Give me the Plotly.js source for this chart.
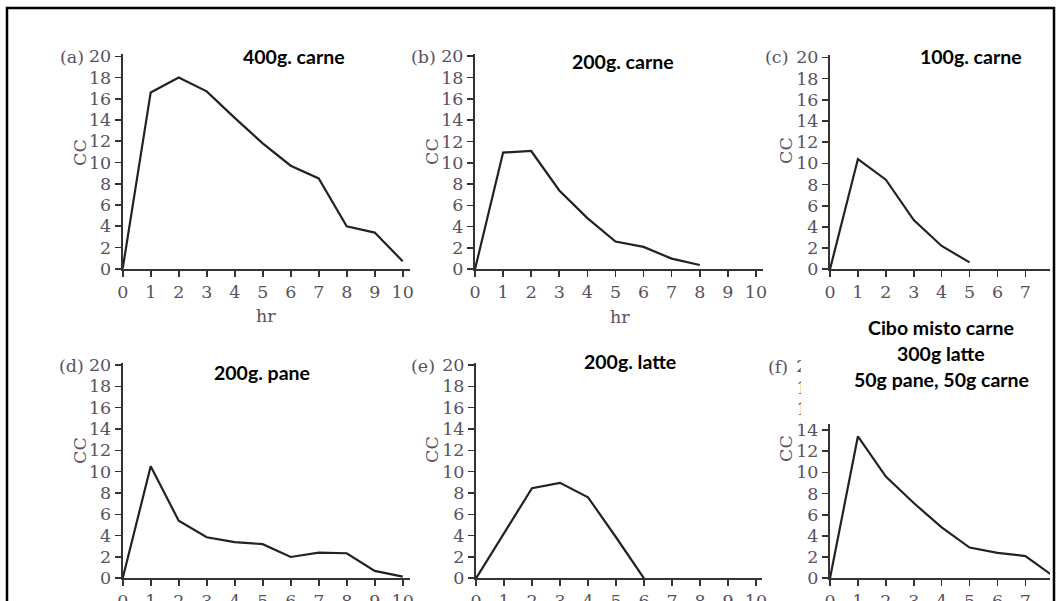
<!DOCTYPE html>
<html>
<head>
<meta charset="utf-8">
<script src="https://cdn.plot.ly/plotly-3.0.1.min.js"></script>
<style>
  html, body { margin: 0; padding: 0; background: #ffffff; }
  #chart { width: 1057px; height: 601px; }
</style>
</head>
<body>
<div id="chart"></div>
<script>
// ---- data ----
const hours10 = [0, 1, 2, 3, 4, 5, 6, 7, 8, 9, 10];
const hours8  = [0, 1, 2, 3, 4, 5, 6, 7, 8];
const hours6  = [0, 1, 2, 3, 4, 5, 6];
const hours5  = [0, 1, 2, 3, 4, 5];

const carne400 = [0, 16.6, 18.0, 16.7, 14.2, 11.8, 9.7, 8.5, 4.0, 3.4, 0.7];
const carne200 = [0, 10.95, 11.1, 7.4, 4.8, 2.6, 2.1, 1.0, 0.4];
const carne100 = [0, 10.4, 8.45, 4.65, 2.2, 0.65];
const pane200  = [0, 10.5, 5.4, 3.85, 3.4, 3.2, 2.0, 2.4, 2.35, 0.7, 0.15];
const latte200 = [0, 4.2, 8.45, 8.95, 7.6, 3.85, 0];
const misto    = [0, 13.4, 9.6, 7.1, 4.8, 2.9, 2.4, 2.1, 0.2];

const yTicks   = [0, 2, 4, 6, 8, 10, 12, 14, 16, 18, 20];
const xTicks10 = [0, 1, 2, 3, 4, 5, 6, 7, 8, 9, 10];
const xTicks7  = [0, 1, 2, 3, 4, 5, 6, 7];

const panelLabels = ["(a)", "(b)", "(c)", "(d)", "(e)", "(f)"];
const titles = ["400g. carne", "200g. carne", "100g. carne", "200g. pane", "200g. latte"];
const mistoTitle = ["Cibo misto carne", "300g latte", "50g pane, 50g carne"];
const yLabel = "CC";
const xLabel = "hr";

// ---- layout helpers ----
const W = 1057, H = 601;
const serif = "DejaVu Serif, Liberation Serif, serif";
const sans = "Lato, Carlito, Open Sans, sans-serif";
const tickCol = "#5a5160";
const axisCol = "#333333";

function px(x) { return x / W; }
function py(y) { return 1 - y / H; }

// panel geometry in pixels: x0 = pixel of x=0, x1 = pixel at right end of range,
// yb = pixel of y=0, yt = pixel of top of range
const panels = [
  {x0: 122.7, x1: 409.7, yb: 268.7, yt: 54.2, xr: 10.25, xt: xTicks10},
  {x0: 475.0, x1: 763.0, yb: 269.3, yt: 54.0, xr: 10.25, xt: xTicks10},
  {x0: 830.0, x1: 1050.0, yb: 269.3, yt: 55.2, xr: 7.88, xt: xTicks7},
  {x0: 122.7, x1: 409.7, yb: 578.3, yt: 362.9, xr: 10.25, xt: xTicks10},
  {x0: 476.0, x1: 761.6, yb: 578.3, yt: 362.9, xr: 10.2, xt: xTicks10},
  {x0: 830.0, x1: 1050.0, yb: 578.3, yt: 364.2, xr: 7.88, xt: xTicks7}
];

const series = [
  {x: hours10, y: carne400},
  {x: hours8,  y: carne200},
  {x: hours5,  y: carne100},
  {x: hours10, y: pane200},
  {x: hours6,  y: latte200},
  {x: hours8,  y: misto}
];

const traces = [];
const layout = {
  width: W, height: H,
  margin: {l: 0, r: 0, t: 0, b: 0},
  paper_bgcolor: "#ffffff",
  plot_bgcolor: "rgba(0,0,0,0)",
  showlegend: false,
  annotations: [],
  shapes: []
};

panels.forEach((p, i) => {
  const n = i === 0 ? "" : String(i + 1);
  traces.push({
    type: "scatter", mode: "lines",
    x: series[i].x, y: series[i].y,
    xaxis: "x" + n, yaxis: "y" + n,
    line: {color: "#222222", width: 2.2},
    hoverinfo: "skip"
  });
  const common = {
    showgrid: false, zeroline: false, showline: true,
    linecolor: axisCol, linewidth: 2,
    ticks: "outside", ticklen: 6, tickwidth: 1.6, tickcolor: axisCol,
    tickfont: {family: serif, size: 17.5, color: tickCol},
    fixedrange: true
  };
  layout["xaxis" + n] = Object.assign({}, common, {
    domain: [px(p.x0), px(p.x1)],
    range: [0, p.xr],
    tickmode: "array", tickvals: p.xt, ticktext: p.xt.map(String),
    anchor: "y" + n
  });
  layout["yaxis" + n] = Object.assign({}, common, {
    domain: [py(p.yb), py(p.yt)],
    range: [0, 20.2],
    tickmode: "array", tickvals: yTicks, ticktext: yTicks.map(String),
    anchor: "x" + n
  });
});

function ann(text, x, y, font, extra) {
  layout.annotations.push(Object.assign({
    text: text, xref: "paper", yref: "paper",
    x: px(x), y: py(y), xanchor: "center", yanchor: "middle",
    showarrow: false, font: font
  }, extra || {}));
}

const labFont = {family: serif, size: 17.5, color: tickCol};
const titleFont = {family: sans, size: 19.5, color: "#000000", weight: "bold"};

// panel letters
const letterPos = [[72, 57], [423, 57], [776, 57], [71, 366], [423, 366], [778, 367]];
letterPos.forEach((q, i) => ann(panelLabels[i], q[0], q[1], labFont));

// y axis titles "CC"
const ccPos = [[80, 153], [432, 152], [786, 151], [80, 451], [432, 450], [786, 449]];
ccPos.forEach(q => ann(yLabel, q[0], q[1], labFont, {textangle: -90}));

// x axis titles "hr"
ann(xLabel, 266, 316, labFont);
ann(xLabel, 620, 317, labFont);

// panel titles
const titlePos = [[294, 56], [623, 61], [971, 56], [262, 372], [630, 361]];
titlePos.forEach((q, i) => ann("<b>" + titles[i] + "</b>", q[0], q[1], titleFont));

// white box over top of panel (f) axis, holding its three-line title
layout.shapes.push({
  type: "rect", xref: "paper", yref: "paper", layer: "above",
  x0: px(801), x1: px(1052), y0: py(424), y1: py(306),
  fillcolor: "#ffffff", line: {width: 0}
});
[327, 353, 379].forEach((yy, i) => ann("<b>" + mistoTitle[i] + "</b>", 941, yy, titleFont));

// outer frame
layout.shapes.push({
  type: "rect", xref: "paper", yref: "paper", layer: "above",
  x0: px(7), x1: px(1054), y0: py(640), y1: py(8),
  fillcolor: "rgba(0,0,0,0)", line: {color: "#000000", width: 2.5}
});

Plotly.newPlot("chart", traces, layout, {staticPlot: true, displayModeBar: false});
</script>
</body>
</html>
